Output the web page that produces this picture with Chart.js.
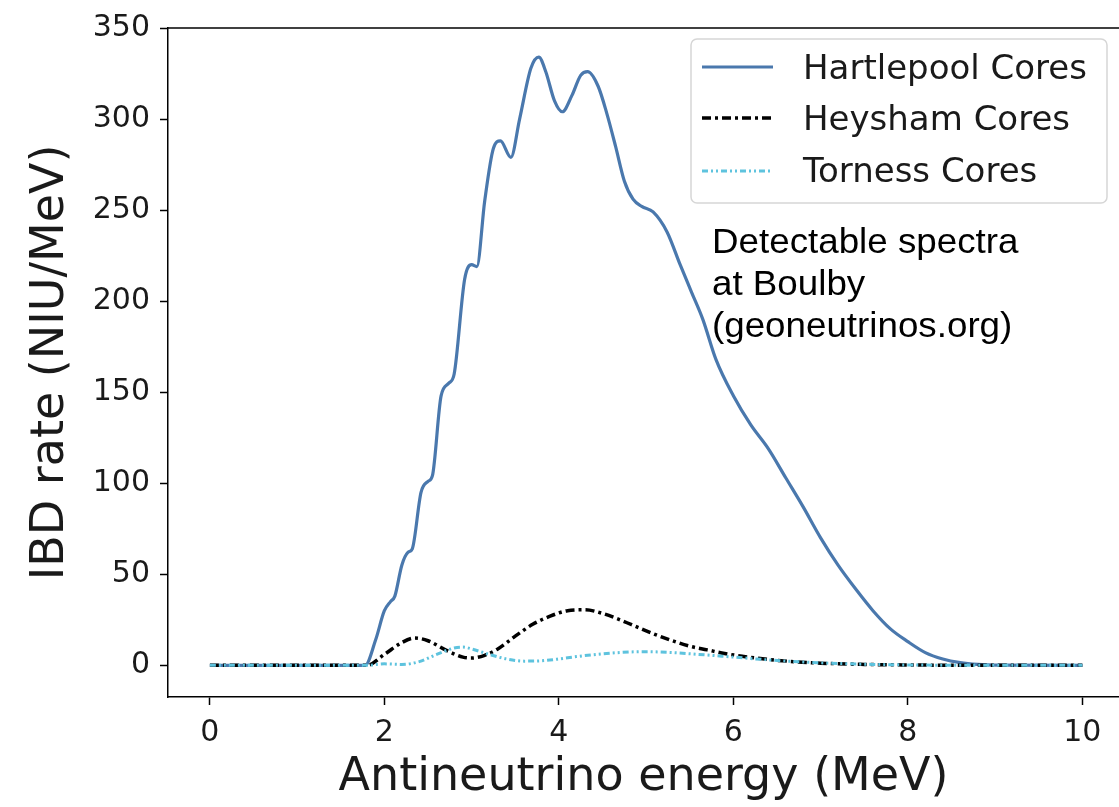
<!DOCTYPE html>
<html lang="en">
<head>
  <meta charset="UTF-8">
  <title>Detectable spectra at Boulby</title>
  <script src="https://cdn.jsdelivr.net/npm/chart.js"></script>
  <style>
    html, body { margin: 0; padding: 0; background: #fff; }
    #wrap { position: relative; width: 1119px; height: 807px; }
    #note {
      position: absolute; left: 712px; top: 220px;
      font-family: "Liberation Sans", Arial, sans-serif;
      font-size: 35px; line-height: 42px; color: #000;
      transform: scaleX(1.05); transform-origin: left top;
      white-space: nowrap;
    }
  </style>
</head>
<body>
<div id="wrap">
  <canvas id="spectraChart" width="1119" height="807"></canvas>
  <div id="note">Detectable spectra<br>at Boulby<br>(geoneutrinos.org)</div>
</div>
<script>
  // Spectra: energy (MeV) / IBD rate (NIU/MeV)
  const hartEnergy = [0, 1, 1.78, 1.9, 2.0, 2.07, 2.12, 2.2, 2.27, 2.32, 2.42, 2.5, 2.55, 2.65, 2.74, 2.8, 2.92, 3.0, 3.06, 3.15,
    3.25, 3.33, 3.45, 3.55, 3.68, 3.77, 3.85, 3.95, 4.04, 4.15, 4.25, 4.33, 4.45, 4.55, 4.65, 4.75, 4.85, 4.95, 5.08, 5.24,
    5.39, 5.52, 5.65, 5.8, 6.0, 6.2, 6.4, 6.6, 6.8, 7.0, 7.2, 7.4, 7.6, 7.8, 8.0, 8.2, 8.4, 8.6, 8.8, 9.0, 10.0];
  const hartRate = [0, 0, 0, 14, 30, 35, 38, 55, 62, 64, 95, 101, 104, 148, 155, 160, 212, 220, 219, 255,
    284, 288, 279, 300, 328, 334, 326, 310, 304, 313, 324, 326, 318, 303, 285, 266, 256, 252, 249, 238,
    220, 205, 190, 168, 148, 132, 119, 103, 87, 70, 55, 42, 30, 20, 13, 7, 3.5, 1.5, 0.5, 0.1, 0];

  const heyEnergy = [0, 1.8, 2.0, 2.2, 2.35, 2.5, 2.7, 2.9, 3.0, 3.15, 3.3, 3.5, 3.7, 3.9, 4.1, 4.3,
    4.5, 4.7, 4.9, 5.1, 5.3, 5.5, 5.7, 5.9, 6.1, 6.4, 6.7, 7.0, 7.5, 8.0, 8.5, 10];
  const heyRate = [0, 0, 6, 12.5, 15, 13.5, 8.5, 4.5, 4, 5.5, 9, 16, 22.5, 27, 30, 30.5,
    28.5, 25, 21, 17, 13.5, 10.5, 8.5, 6.5, 5, 3.2, 2, 1.2, 0.5, 0.2, 0.05, 0];

  const torEnergy = [0, 1.8, 2.0, 2.2, 2.4, 2.6, 2.8, 2.9, 3.0, 3.2, 3.4, 3.6, 3.8, 4.0,
    4.2, 4.5, 4.8, 5.0, 5.3, 5.6, 6.0, 6.4, 6.8, 7.2, 7.6, 8.0, 8.5, 10];
  const torRate = [0, 0, 0.8, 0.5, 2, 6, 9.5, 10, 9, 6, 3.5, 2.3, 2.5, 3.5,
    4.8, 6.3, 7.3, 7.5, 7, 6, 4.5, 3, 1.8, 1, 0.5, 0.2, 0.05, 0];

  const seriesLabels = ['Hartlepool Cores', 'Heysham Cores', 'Torness Cores'];
  const xTicks = [0, 2, 4, 6, 8, 10];
  const yTicks = [0, 50, 100, 150, 200, 250, 300, 350];

  const toPoints = (xs, ys) => xs.map((x, i) => ({ x: x, y: ys[i] }));

  // top spine + matplotlib style legend box
  const frameAndLegend = {
    id: 'frameAndLegend',
    afterDatasetsDraw(chart) {
      const ctx = chart.ctx;
      const area = chart.chartArea;
      ctx.save();
      ctx.strokeStyle = '#000';
      ctx.lineWidth = 1.5;
      ctx.beginPath();
      ctx.moveTo(area.left, area.top);
      ctx.lineTo(area.right, area.top);
      ctx.stroke();

      // legend frame
      const bx = 691, by = 39, bw = 416, bh = 164, r = 6;
      ctx.beginPath();
      ctx.moveTo(bx + r, by);
      ctx.arcTo(bx + bw, by, bx + bw, by + bh, r);
      ctx.arcTo(bx + bw, by + bh, bx, by + bh, r);
      ctx.arcTo(bx, by + bh, bx, by, r);
      ctx.arcTo(bx, by, bx + bw, by, r);
      ctx.closePath();
      ctx.fillStyle = 'rgba(255,255,255,0.8)';
      ctx.fill();
      ctx.strokeStyle = '#d6d6d6';
      ctx.lineWidth = 1.5;
      ctx.stroke();

      const rowY = [67, 118, 171];
      const baseY = [79, 130, 182];
      chart.data.datasets.forEach((ds, i) => {
        ctx.beginPath();
        ctx.setLineDash(ds.borderDash || []);
        ctx.strokeStyle = ds.borderColor;
        ctx.lineWidth = ds.borderWidth;
        ctx.moveTo(702, rowY[i]);
        ctx.lineTo(773, rowY[i]);
        ctx.stroke();
        ctx.setLineDash([]);
        ctx.fillStyle = '#1a1a1a';
        ctx.font = '34px "DejaVu Sans"';
        ctx.textBaseline = 'alphabetic';
        ctx.textAlign = 'left';
        ctx.fillText(ds.label, 803, baseY[i]);
      });
      ctx.restore();
    }
  };

  const tickFont = { family: 'DejaVu Sans', size: 30 };
  const titleFont = { family: 'DejaVu Sans', size: 46 };

  const spectraChart = new Chart(document.getElementById('spectraChart'), {
    type: 'line',
    data: {
      datasets: [
        { label: seriesLabels[0], data: toPoints(hartEnergy, hartRate), borderColor: '#4a78ad', borderWidth: 3.2, order: 2 },
        { label: seriesLabels[1], data: toPoints(heyEnergy, heyRate), borderColor: '#000000', borderWidth: 3.5, borderDash: [9, 4, 3, 4], order: 1 },
        { label: seriesLabels[2], data: toPoints(torEnergy, torRate), borderColor: '#5ec3de', borderWidth: 3, borderDash: [6, 3, 2, 3, 2, 3], order: 0 }
      ]
    },
    options: {
      responsive: false,
      animation: false,
      layout: { padding: { top: 21, right: 0, bottom: 0, left: 0 } },
      elements: {
        point: { radius: 0 },
        line: { cubicInterpolationMode: 'monotone', fill: false }
      },
      plugins: { legend: { display: false }, tooltip: { enabled: false } },
      scales: {
        x: {
          type: 'linear',
          min: -0.48,
          max: 10.42,
          afterBuildTicks: (s) => { s.ticks = xTicks.map(v => ({ value: v })); },
          afterFit: (s) => { s.height = 110; },
          grid: { drawOnChartArea: false, drawTicks: true, tickLength: 8, tickWidth: 1.5, tickColor: '#000' },
          border: { display: true, color: '#000', width: 1.5 },
          ticks: { font: tickFont, color: '#1a1a1a', padding: 10, maxRotation: 0 },
          title: { display: true, text: 'Antineutrino energy (MeV)', font: titleFont, color: '#1a1a1a', padding: { top: 0, bottom: 1 } }
        },
        y: {
          type: 'linear',
          min: -17.4,
          max: 350,
          afterBuildTicks: (s) => { s.ticks = yTicks.map(v => ({ value: v })); },
          afterFit: (s) => { s.width = 168; },
          grid: { drawOnChartArea: false, drawTicks: true, tickLength: 8, tickWidth: 1.5, tickColor: '#000' },
          border: { display: true, color: '#000', width: 1.5 },
          ticks: { font: tickFont, color: '#1a1a1a', padding: 10 },
          title: { display: true, text: 'IBD rate (NIU/MeV)', font: titleFont, color: '#1a1a1a', padding: { top: 23, bottom: 0 } }
        }
      }
    },
    plugins: [frameAndLegend]
  });
</script>
</body>
</html>
